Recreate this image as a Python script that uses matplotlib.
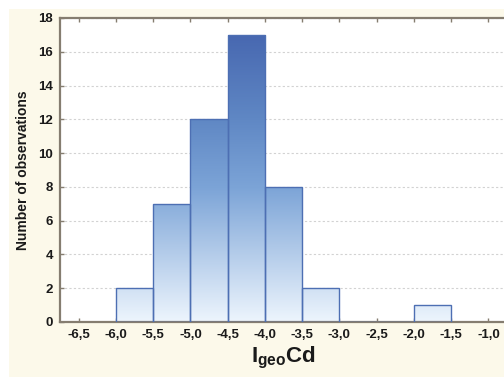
import numpy as np
import matplotlib
matplotlib.use("Agg")
import matplotlib.pyplot as plt
from matplotlib.colors import LinearSegmentedColormap

plt.rcParams['font.family'] = ['Liberation Sans', 'DejaVu Sans']
plt.rcParams['mathtext.fontset'] = 'custom'
plt.rcParams['mathtext.rm'] = 'Liberation Sans:bold'
plt.rcParams['mathtext.bf'] = 'Liberation Sans:bold'
plt.rcParams['mathtext.it'] = 'Liberation Sans:bold'

# Data
bin_edges = [-6.0, -5.5, -5.0, -4.5, -4.0, -3.5, -3.0, -2.5, -2.0, -1.5]
counts = [2, 7, 12, 17, 8, 2, 0, 0, 1]
x_ticks = [-6.5, -6.0, -5.5, -5.0, -4.5, -4.0, -3.5, -3.0, -2.5, -2.0, -1.5, -1.0]
y_ticks = [0, 2, 4, 6, 8, 10, 12, 14, 16, 18]

fig = plt.figure(figsize=(5.04, 3.77), dpi=100, facecolor='white')
bg = fig.add_axes([9/504, 0, 1, 1 - 9/377], zorder=-10)
bg.axis('off')
bg.add_patch(plt.Rectangle((0, 0), 1, 1, transform=bg.transAxes, facecolor='#fcf9ea', edgecolor='none'))

ax = fig.add_axes([60/504, 1 - 322/377, 447/504, 304/377])
ax.set_facecolor('white')

cmap = LinearSegmentedColormap.from_list('bl', [(0.0, '#edf5fd'), (0.44, '#7ca4d7'),
                                                (0.67, '#5f87c4'), (0.95, '#4767b0'),
                                                (1.0, '#4464ad')])
grad = np.linspace(0, 1, 256).reshape(-1, 1)

widths = np.diff(bin_edges)
bars = ax.bar(bin_edges[:-1], counts, width=widths, align='edge',
              facecolor='none', edgecolor='#4d6fb3', linewidth=1.0, zorder=3)
for b, c in zip(bars, counts):
    if c <= 0:
        continue
    im = ax.imshow(grad, origin='lower', aspect='auto', cmap=cmap,
                   extent=[-6.75, -0.75, 0, 18], zorder=2, interpolation='bilinear')
    im.set_clip_path(b)
ax.set_xlim(-6.75, -0.75)
ax.set_ylim(0, 18)

ax.set_yticks(y_ticks)
ax.set_xticks(x_ticks)
ax.set_xticklabels([f"{v:.1f}".replace('.', ',') for v in x_ticks])
ax.yaxis.grid(True, linestyle=(0, (2, 2)), color='#d2d2d2', linewidth=0.8, zorder=1)
ax.set_axisbelow(True)

for s in ax.spines.values():
    s.set_color('#857d70')
    s.set_linewidth(1.6)
ax.tick_params(axis='both', direction='in', length=3, width=1, color='#857d70', top=True,
               labelsize=9.5, pad=5)
for lab in ax.get_xticklabels() + ax.get_yticklabels():
    lab.set_fontweight('bold')
    lab.set_color('#1a1a1a')

ax.set_ylabel('Number of observations', fontsize=10, fontweight='bold', color='#1a1a1a', labelpad=6)
ax.set_xlabel(r'$\mathbf{I}_{\mathbf{geo}}\mathbf{Cd}$', fontsize=16, color='#1a1a1a', labelpad=3)

fig.savefig('out.png', dpi=100, facecolor='white')
